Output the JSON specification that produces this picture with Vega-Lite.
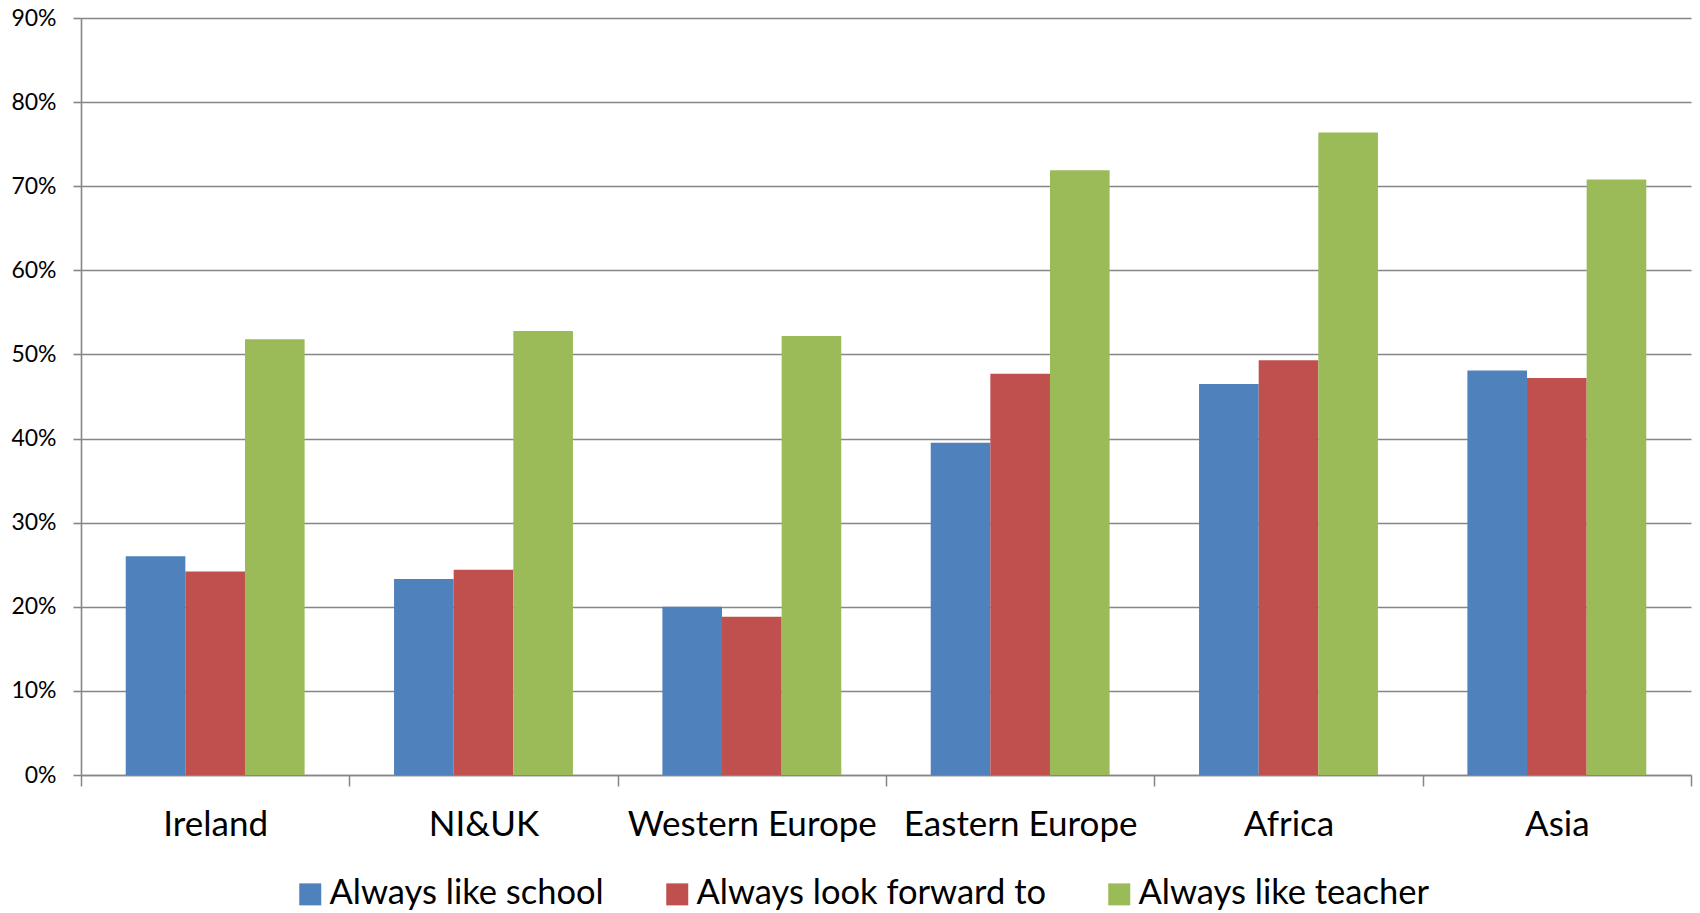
{
  "$schema": "https://vega.github.io/schema/vega-lite/v6.json",
  "width": 1610,
  "height": 757,
  "autosize": {"type": "none"},
  "padding": {"left": 81, "top": 18, "right": 9, "bottom": 138},
  "background": "white",
  "config": {"view": {"stroke": null}, "font": "Lato"},
  "data": {
    "values": [
      {"region": "Ireland", "series": "Always like school", "value": 0.260},
      {"region": "Ireland", "series": "Always look forward to", "value": 0.242},
      {"region": "Ireland", "series": "Always like teacher", "value": 0.518},
      {"region": "NI&UK", "series": "Always like school", "value": 0.233},
      {"region": "NI&UK", "series": "Always look forward to", "value": 0.244},
      {"region": "NI&UK", "series": "Always like teacher", "value": 0.528},
      {"region": "Western Europe", "series": "Always like school", "value": 0.200},
      {"region": "Western Europe", "series": "Always look forward to", "value": 0.188},
      {"region": "Western Europe", "series": "Always like teacher", "value": 0.522},
      {"region": "Eastern Europe", "series": "Always like school", "value": 0.395},
      {"region": "Eastern Europe", "series": "Always look forward to", "value": 0.477},
      {"region": "Eastern Europe", "series": "Always like teacher", "value": 0.719},
      {"region": "Africa", "series": "Always like school", "value": 0.465},
      {"region": "Africa", "series": "Always look forward to", "value": 0.493},
      {"region": "Africa", "series": "Always like teacher", "value": 0.764},
      {"region": "Asia", "series": "Always like school", "value": 0.481},
      {"region": "Asia", "series": "Always look forward to", "value": 0.472},
      {"region": "Asia", "series": "Always like teacher", "value": 0.708}
    ]
  },
  "mark": {"type": "bar"},
  "encoding": {
    "x": {
      "field": "region",
      "type": "nominal",
      "sort": ["Ireland", "NI&UK", "Western Europe", "Eastern Europe", "Africa", "Asia"],
      "scale": {"paddingInner": 0, "paddingOuter": 0},
      "axis": {
        "title": null,
        "labelAngle": 0,
        "labelFontSize": 35,
        "labelLimit": 0,
        "labelColor": "black",
        "tickBand": "extent",
        "tickSize": 11,
        "tickColor": "#868686",
        "tickWidth": 1.5,
        "domainColor": "#868686",
        "domainWidth": 1.5,
        "labelPadding": 21,
        "grid": false
      }
    },
    "xOffset": {
      "field": "series",
      "sort": ["Always like school", "Always look forward to", "Always like teacher"],
      "scale": {"paddingInner": 0, "paddingOuter": 0.75}
    },
    "y": {
      "field": "value",
      "type": "quantitative",
      "scale": {"domain": [0, 0.9]},
      "axis": {
        "title": null,
        "format": ".0%",
        "values": [0, 0.1, 0.2, 0.3, 0.4, 0.5, 0.6, 0.7, 0.8, 0.9],
        "grid": true,
        "gridColor": "#868686",
        "gridWidth": 1.6,
        "tickSize": 8,
        "tickColor": "#868686",
        "tickWidth": 1.6,
        "domainColor": "#868686",
        "domainWidth": 1.6,
        "labelPadding": 17,
        "labelFontSize": 23,
        "labelColor": "black"
      }
    },
    "color": {
      "field": "series",
      "type": "nominal",
      "sort": ["Always like school", "Always look forward to", "Always like teacher"],
      "scale": {
        "domain": ["Always like school", "Always look forward to", "Always like teacher"],
        "range": ["#4F81BD", "#C0504D", "#9BBB59"]
      },
      "legend": {
        "orient": "none",
        "direction": "horizontal",
        "legendX": 212,
        "legendY": 859,
        "title": null,
        "symbolType": "square",
        "symbolSize": 484,
        "symbolStrokeWidth": 0,
        "symbolOpacity": 1,
        "labelFontSize": 34.5,
        "labelColor": "black",
        "labelOffset": 2,
        "columnPadding": 56,
        "labelLimit": 0
      }
    }
  }
}
